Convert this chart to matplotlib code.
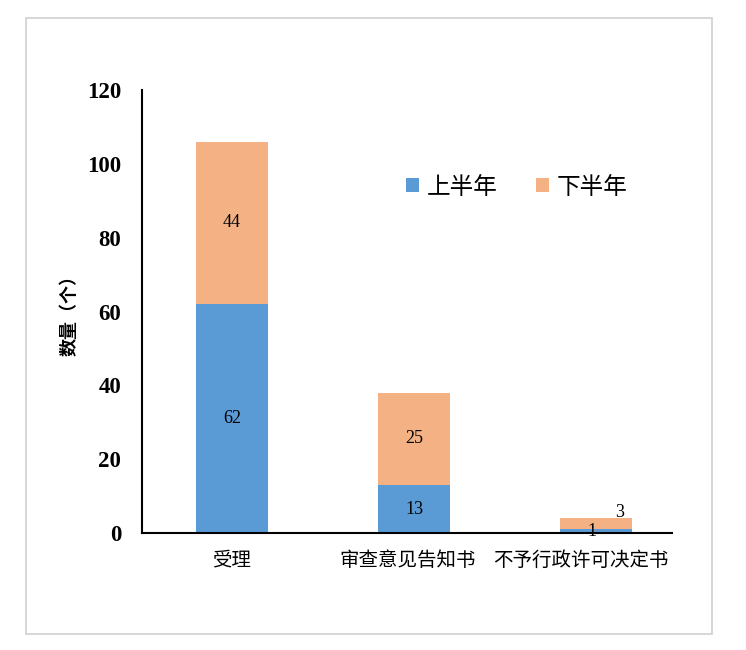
import matplotlib
matplotlib.use("Agg")
import matplotlib.pyplot as plt
import matplotlib.transforms as mtransforms
from matplotlib.patches import Rectangle

CJK = ["Noto Sans CJK SC", "DejaVu Sans"]
SERIF = ["Liberation Serif", "DejaVu Serif"]

categories = ["受理", "审查意见告知书", "不予行政许可决定书"]
first_half = [62, 13, 1]
second_half = [44, 25, 3]
series_names = ["上半年", "下半年"]
yticks = [0, 20, 40, 60, 80, 100, 120]

BLUE = "#5B9BD5"
ORANGE = "#F4B183"

W, H = 746, 650
fig = plt.figure(figsize=(W / 100, H / 100), dpi=100)
fig.patches.append(Rectangle((26 / W, 1 - 634 / H), (712 - 26) / W, (634 - 18) / H,
                             transform=fig.transFigure, fill=False,
                             ec="#d0d0d0", lw=1.2))

ax = fig.add_axes([142 / W, 1 - 533 / H, (672 - 142) / W, (533 - 90) / H])
x = list(range(len(categories)))
width = 72 / 182
ax.bar(x, first_half, width, color=BLUE, label=series_names[0], zorder=2)
ax.bar(x, second_half, width, bottom=first_half, color=ORANGE,
       label=series_names[1], zorder=2)

# segment labels
for i in range(2):
    ax.text(x[i], first_half[i] / 2, str(first_half[i]), ha="center", va="center",
            fontsize=13, family=SERIF)
    ax.text(x[i], first_half[i] + second_half[i] / 2, str(second_half[i]),
            ha="center", va="center", fontsize=13, family=SERIF)
ax.text(x[2] - 0.02, first_half[2] / 2, str(first_half[2]), ha="center", va="center",
        fontsize=13, family=SERIF, zorder=3)
ax.text(x[2] + 0.13, first_half[2] + second_half[2] + 1.5, str(second_half[2]),
        ha="center", va="center", fontsize=13, family=SERIF)

ax.set_xlim(-90 / 182, 440 / 182)
ax.set_ylim(0, 120)
ax.set_yticks(yticks)
ax.set_yticklabels([str(v) for v in yticks], family=SERIF, fontsize=16.5,
                   fontweight="bold")
ax.set_xticks(x)
ax.set_xticklabels(categories, family=CJK, fontsize=14)
ax.tick_params(axis="both", length=0)
ax.tick_params(axis="y", pad=15)
ax.tick_params(axis="x", pad=12)
# shift category labels slightly left like the reference
shifts = [0, -6, -15]
for lab, dx in zip(ax.get_xticklabels(), shifts):
    lab.set_transform(lab.get_transform() +
                      mtransforms.ScaledTranslation(dx / 100, 0, fig.dpi_scale_trans))
for s in ["top", "right"]:
    ax.spines[s].set_visible(False)
ax.spines["left"].set_linewidth(1.5)
ax.spines["bottom"].set_linewidth(1.5)

ax.set_ylabel("数量（个）", family=CJK, fontsize=13, fontweight="bold", labelpad=6)

ax.legend(loc="center left", bbox_to_anchor=(0.48, (533 - 187) / 443), ncol=2,
          frameon=False, prop={"family": CJK, "size": 17}, handlelength=0.55,
          handleheight=0.55, handletextpad=0.35, columnspacing=1.6,
          borderaxespad=0)

fig.savefig("out.png", dpi=100)
